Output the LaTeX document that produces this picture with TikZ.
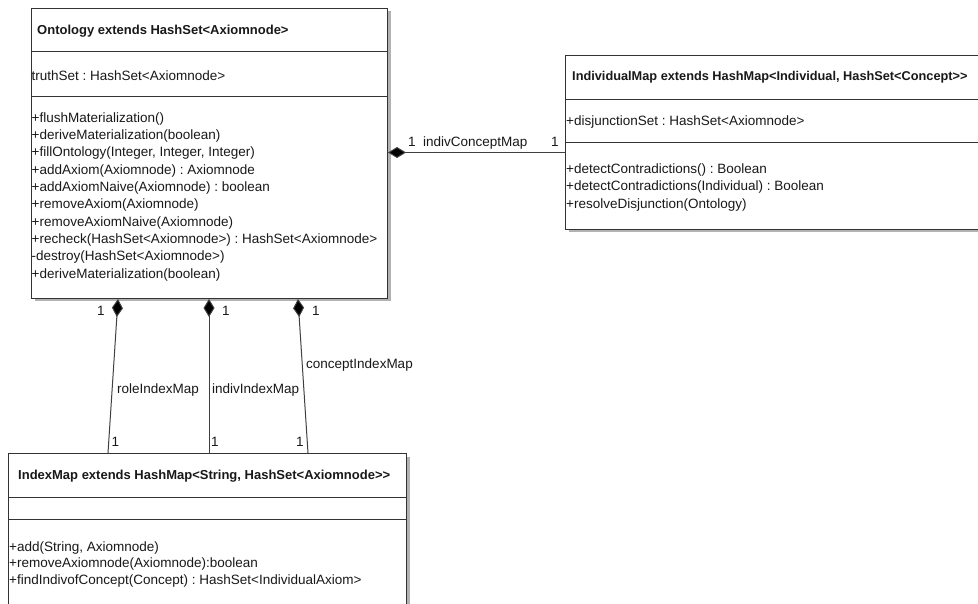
\documentclass[tikz,border=0pt]{standalone}
\usepackage{fontspec}
\setmainfont{Liberation Sans}
\usetikzlibrary{arrows.meta,calc,shadows}
\frenchspacing

\tikzset{
  classbox/.style={draw=black!80, line width=1pt, fill=white, rectangle, inner sep=0pt,
    anchor=north west, drop shadow={shadow xshift=3pt, shadow yshift=-3pt, fill=black!30, opacity=1}},
  sepline/.style={draw=black!80, line width=1pt},
  ttl/.style={font=\fontsize{13.0}{15}\selectfont\bfseries, anchor=mid west, inner sep=0pt,
    text=black!90, yshift=-1.4pt},
  mem/.style={font=\fontsize{13.5}{16}\selectfont, anchor=mid west, inner sep=0pt,
    text=black!90, yshift=-1.4pt},
  lbl/.style={mem},
  compo/.style={draw=black!75, line width=1pt, -{Diamond[length=18pt,width=11pt,fill=black]}},
}

\begin{document}
\begin{tikzpicture}[x=1pt, y=-1pt]
\useasboundingbox (0,0) rectangle (978,604);
\fill[white] (0,0) rectangle (978,604);

% ---------- class boxes ----------
\node[classbox, minimum width=356pt, minimum height=290pt] (onto) at (31,8) {};
\node[classbox, minimum width=425pt, minimum height=174pt] (indiv) at (565,55) {};
\node[classbox, minimum width=398pt, minimum height=170pt] (imap) at (8,453) {};

% compartment separators
\draw[sepline] ($(onto.north west)+(0,44)$) -- ($(onto.north east)+(0,44)$);
\draw[sepline] ($(onto.north west)+(0,89)$) -- ($(onto.north east)+(0,89)$);
\draw[sepline] ($(indiv.north west)+(0,45)$) -- ($(indiv.north east)+(0,45)$);
\draw[sepline] ($(indiv.north west)+(0,88)$) -- ($(indiv.north east)+(0,88)$);
\draw[sepline] ($(imap.north west)+(0,44)$) -- ($(imap.north east)+(0,44)$);
\draw[sepline] ($(imap.north west)+(0,66)$) -- ($(imap.north east)+(0,66)$);

% ---------- Ontology ----------
\node[ttl] (ontoT) at (37,30) {Ontology extends HashSet<Axiomnode>};
\node[mem] (ontoA) at (31.5,76) {truthSet : HashSet<Axiomnode>};
\node[mem] (ontoM1)  at (31.5,118.0) {+flushMaterialization()};
\node[mem] (ontoM2)  at (31.5,135.4) {+deriveMaterialization(boolean)};
\node[mem] (ontoM3)  at (31.5,152.7) {+fillOntology(Integer, Integer, Integer)};
\node[mem] (ontoM4)  at (31.5,170.1) {+addAxiom(Axiomnode) : Axiomnode};
\node[mem] (ontoM5)  at (31.5,187.4) {+addAxiomNaive(Axiomnode) : boolean};
\node[mem] (ontoM6)  at (31.5,204.8) {+removeAxiom(Axiomnode)};
\node[mem] (ontoM7)  at (31.5,222.1) {+removeAxiomNaive(Axiomnode)};
\node[mem] (ontoM8)  at (31.5,239.5) {+recheck(HashSet<Axiomnode>) : HashSet<Axiomnode>};
\node[mem] (ontoM9)  at (31.5,256.8) {-destroy(HashSet<Axiomnode>)};
\node[mem] (ontoM10) at (31.5,274.2) {+deriveMaterialization(boolean)};

% ---------- IndividualMap ----------
\node[ttl, font=\fontsize{12.75}{15}\selectfont\bfseries] (indivT) at (572,76)
  {IndividualMap extends HashMap<Individual, HashSet<Concept>{}>};
\node[mem] (indivA) at (566,121) {+disjunctionSet : HashSet<Axiomnode>};
\node[mem] (indivM1) at (566,169) {+detectContradictions() : Boolean};
\node[mem] (indivM2) at (566,186.5) {+detectContradictions(Individual) : Boolean};
\node[mem] (indivM3) at (566,204) {+resolveDisjunction(Ontology)};

% ---------- IndexMap ----------
\node[ttl] (imapT) at (18,475) {IndexMap extends HashMap<String, HashSet<Axiomnode>{}>};
\node[mem] (imapM1) at (9,547) {+add(String, Axiomnode)};
\node[mem] (imapM2) at (9,563.5) {+removeAxiomnode(Axiomnode):boolean};
\node[mem] (imapM3) at (9,580) {+findIndivofConcept(Concept) : HashSet<IndividualAxiom>};

% ---------- connector end points on the box borders ----------
\path (onto.north east) ++(0,144.5) coordinate (ontoE);
\path (indiv.north west) ++(0,97.5) coordinate (indivW);
\path (onto.south west) ++(87,0)  coordinate (ontoS1);
\path (onto.south west) ++(178,0) coordinate (ontoS2);
\path (onto.south west) ++(267,0) coordinate (ontoS3);
\path (imap.north west) ++(100,0) coordinate (imapN1);
\path (imap.north west) ++(201,0) coordinate (imapN2);
\path (imap.north west) ++(300,0) coordinate (imapN3);

% compositions
\draw[compo] (indivW) -- (ontoE);
\draw[compo] (imapN1) -- (ontoS1);
\draw[compo] (imapN2) -- (ontoS2);
\draw[compo] (imapN3) -- (ontoS3);

% multiplicities and role names
\node[lbl] (m1) at (408,142) {1};
\node[lbl] (r0) at (423,142) {indivConceptMap};
\node[lbl] (m2) at (551,142) {1};

\node[lbl] (m3) at (97,311) {1};
\node[lbl] (m4) at (222,311) {1};
\node[lbl] (m5) at (312,311) {1};

\node[lbl] (r1) at (117,389) {roleIndexMap};
\node[lbl] (r2) at (212,389) {indivIndexMap};
\node[lbl] (r3) at (306,364) {conceptIndexMap};

\node[lbl] (m6) at (111.5,442) {1};
\node[lbl] (m7) at (211,442) {1};
\node[lbl] (m8) at (296,442) {1};
\end{tikzpicture}
\end{document}
